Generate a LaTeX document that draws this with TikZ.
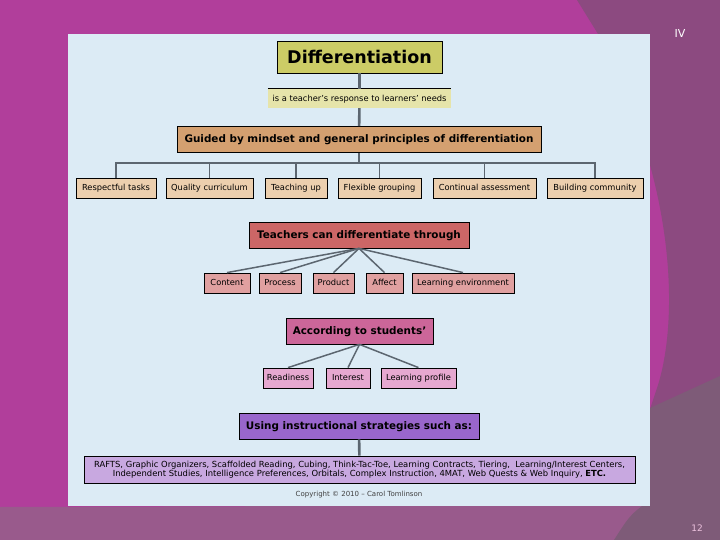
\documentclass[tikz,border=0pt]{standalone}
\usepackage{fontspec}
\setmainfont{DejaVu Sans}
\usetikzlibrary{positioning}
\definecolor{figMagenta}{RGB}{177,62,155}
\definecolor{figPrune}{RGB}{140,74,128}
\definecolor{figBande}{RGB}{153,90,140}
\definecolor{figGrisMauve}{RGB}{126,91,120}
\definecolor{figPanneau}{RGB}{220,235,245}
\definecolor{figOlive}{RGB}{204,204,102}
\definecolor{figOliveFond}{RGB}{230,228,170}
\definecolor{figTan}{RGB}{212,160,112}
\definecolor{figTanFond}{RGB}{236,207,174}
\definecolor{figRouge}{RGB}{204,102,102}
\definecolor{figRougeFond}{RGB}{224,160,160}
\definecolor{figRose}{RGB}{204,102,153}
\definecolor{figRoseFond}{RGB}{230,168,208}
\definecolor{figViolet}{RGB}{153,102,204}
\definecolor{figVioletFond}{RGB}{200,168,224}
\definecolor{figGris}{RGB}{92,102,112}

\begin{document}
\begin{tikzpicture}[
  x=1pt, y=-1pt,
  every node/.style={font=\fontsize{8.3}{10}\selectfont, text=black, inner sep=2pt},
  titre/.style={draw=black, line width=0.8pt, fill=figOlive, minimum height=32pt,
                text height=12.5pt, text depth=0pt,
                font=\fontsize{17.5}{20}\selectfont\bfseries},
  tete/.style={draw=black, line width=0.8pt, minimum height=26pt,
               text height=7.6pt, text depth=1.2pt,
               font=\fontsize{10.4}{12}\selectfont\bfseries},
  feuille/.style={draw=black, line width=0.8pt, minimum height=20pt,
                  text height=6.2pt, text depth=1pt},
  ln/.style={draw=figGris, line width=2.6pt},
  br/.style={draw=figGris, line width=1.5pt}
]

% slide background
\useasboundingbox (0,0) rectangle (720,540);
\fill[figMagenta] (0,0) rectangle (720,540);
\fill[figPrune] (577,0) -- (720,0) -- (720,378) -- (650,409) -- (658,385)
  .. controls (672,340) and (676,260) .. (650,165) -- (598,34) -- cycle;
\fill[figBande] (0,507) -- (650,505) -- (618,540) -- (0,540) -- cycle;
\fill[figGrisMauve] (650,408) -- (720,376) -- (720,540) -- (614,540)
  .. controls (630,515) .. (650,500) -- cycle;
\fill[figPanneau] (68,34) rectangle (650,506);

\node[text=white, font=\fontsize{11}{13}\selectfont] (num) at (680,33) {IV};
\node[text=figRoseFond!70!white, font=\fontsize{9}{11}\selectfont] (page) at (697,528) {12};

% top of the chart
\node[titre, minimum width=165] (diff) at (359.5,57) {Differentiation};
\node[fill=figOliveFond, minimum width=183, minimum height=19,
      text height=6.2pt, text depth=1pt] (resp) at (359.5,98.5)
     {is a teacher's response to learners' needs};
\draw[black, line width=0.8pt] (resp.north west) -- (resp.north east);
\node[tete, fill=figTan, minimum width=364] (guide) at (359,139.5)
     {Guided by mindset and general principles of differentiation};

\draw[ln] (diff) -- (resp);
\draw[ln] (resp) -- (guide);

\node[feuille, fill=figTanFond, minimum width=80] (resp-t) at (116,188)   {Respectful tasks};
\node[feuille, fill=figTanFond, minimum width=87] (qual)   at (209.5,188) {Quality curriculum};
\node[feuille, fill=figTanFond, minimum width=62] (teach)  at (296,188)   {Teaching up};
\node[feuille, fill=figTanFond, minimum width=83] (flex)   at (379.5,188) {Flexible grouping};
\node[feuille, fill=figTanFond, minimum width=103] (cont)  at (484.5,188) {Continual assessment};
\node[feuille, fill=figTanFond, minimum width=96] (build)  at (595,188)   {Building community};

\coordinate (barre) at (359,163);
\draw[ln] (guide) -- (barre);
\foreach \n in {resp-t,qual,teach,flex,cont,build}
  \draw[br] (\n.north) |- (barre);

% ways to differentiate
\node[tete, fill=figRouge, minimum width=220] (voies) at (359,235) {Teachers can differentiate through};
\node[feuille, fill=figRougeFond, minimum width=46] (content) at (227,283)   {Content};
\node[feuille, fill=figRougeFond, minimum width=42] (process) at (280,283)   {Process};
\node[feuille, fill=figRougeFond, minimum width=41] (product) at (333.5,283) {Product};
\node[feuille, fill=figRougeFond, minimum width=37] (affect)  at (384.5,283) {Affect};
\node[feuille, fill=figRougeFond, minimum width=102] (env)    at (463,283)   {Learning environment};
\foreach \n in {content,process,product,affect,env}
  \draw[br] (voies.south) -- (\n.north);

% students
\node[tete, fill=figRose, minimum width=147] (eleves) at (359.5,331) {According to students'};
\node[feuille, fill=figRoseFond, minimum width=50] (ready)  at (288,378)   {Readiness};
\node[feuille, fill=figRoseFond, minimum width=44] (inter)  at (348,378)   {Interest};
\node[feuille, fill=figRoseFond, minimum width=75] (profil) at (418.5,378) {Learning profile};
\foreach \n in {ready,inter,profil}
  \draw[br] (eleves.south) -- (\n.north);

% strategies
\node[tete, fill=figViolet, minimum width=240] (strat) at (359,426) {Using instructional strategies such as:};
\node[feuille, fill=figVioletFond, minimum width=551, minimum height=27, align=center,
      text height=, text depth=,
      font=\fontsize{8.4}{9.4}\selectfont] (liste) at (359.5,469.5)
     {RAFTS, Graphic Organizers, Scaffolded Reading, Cubing, Think-Tac-Toe, Learning Contracts, Tiering, \ Learning/Interest Centers,\\
      Independent Studies, Intelligence Preferences, Orbitals, Complex Instruction, 4MAT, Web Quests \& Web Inquiry, \textbf{ETC.}};
\draw[ln] (strat) -- (liste);

\node[text=black!75, font=\fontsize{7}{8}\selectfont] (copy) at (359,495) {Copyright © 2010 – Carol Tomlinson};

\end{tikzpicture}
\end{document}
